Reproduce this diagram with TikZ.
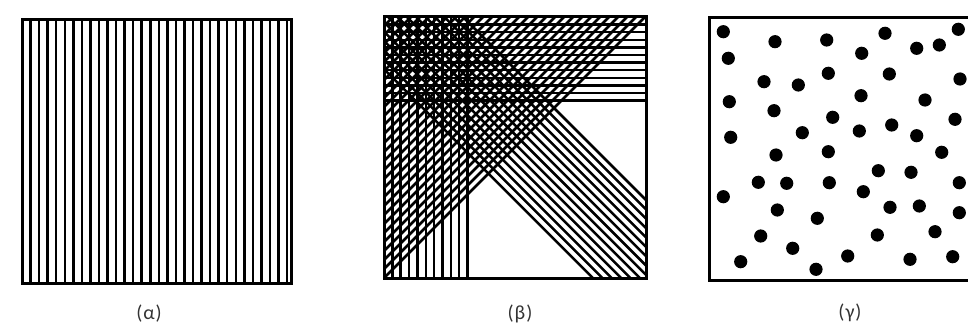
\documentclass[tikz,border=0pt]{standalone}
\usepackage{fontspec}
\setmainfont{Carlito}
\begin{document}
\begin{tikzpicture}[x=1pt,y=-1pt,
  hatch/.style={line width=2.5pt, black},
  frame/.style={line width=3pt, black},
  dotmark/.style={fill=black},
  caption/.style={font=\fontsize{20}{24}\selectfont, text=black!80}]
\useasboundingbox (0,0) rectangle (968,331);
% ---------- panel alpha ----------
\foreach \k in {1,...,31} \draw[hatch] ({22+8.55*\k},20) -- ({22+8.55*\k},283);
\draw[frame] (22,20) rectangle (291,283);
% ---------- panel beta ----------
\begin{scope}
\clip (384,17) rectangle (646,278);
\foreach \k in {1,...,11} \draw[hatch] (384,{17+7.6*\k}) -- (646,{17+7.6*\k});
\foreach \k in {1,...,10} \draw[hatch] ({384+8.35*\k},17) -- ({384+8.35*\k},278);
\foreach \k in {0,...,29} {
  \pgfmathsetmacro\cc{662-9*\k}
  \draw[hatch] ({\cc-300},300) -- ({\cc+100},-100);
}
\foreach \k in {0,...,14} {
  \pgfmathsetmacro\dd{-446+9.36*\k}
  \draw[hatch] (300,{300+\dd}) -- (700,{700+\dd});
}
\end{scope}
\draw[frame] (384,17) rectangle (646,278);
% ---------- panel gamma ----------
\draw[frame] (968,18) -- (709,18) -- (709,280) -- (968,280);
\foreach \px/\py in {723.3/31.7, 775/41.7, 826.7/40, 885/33.3, 958.3/29.3,
  728.3/58.3, 861.7/53.3, 916.7/48.3, 939.3/45,
  764/81.7, 798.3/85, 828.3/73.3, 889.3/74, 960/79,
  729.3/101.7, 774/110.7, 861/95.7, 925/100,
  832.7/117.3, 955/119.3,
  730.7/137.3, 802.3/132.7, 859.3/131, 891.7/125, 916.7/135.7,
  776/155, 828.3/151.7, 941.7/152.3,
  878.3/170.7, 911/172.3,
  758.3/182.3, 786.7/183.3, 829.3/182.7, 863.3/191.7, 959.3/182.7,
  723.3/196.7, 777.3/210, 890/207.3, 919.3/206, 959.3/212.7,
  817.3/218.3, 760.7/236, 877.3/235, 935/231.7,
  792.7/248.3, 740.7/261.7, 847.7/256, 910/259.3, 952.7/256.7,
  816/269.3}
  \fill[dotmark] (\px,\py) circle (6.6);
% ---------- captions ----------
\node[caption] (capa) at (149,314) {(\kern1ptα\kern1pt)};
\node[caption] (capb) at (520,314) {(\kern1ptβ\kern1pt)};
\node[caption] (capc) at (850,313) {(\kern1ptγ\kern1pt)};
\end{tikzpicture}
\end{document}
